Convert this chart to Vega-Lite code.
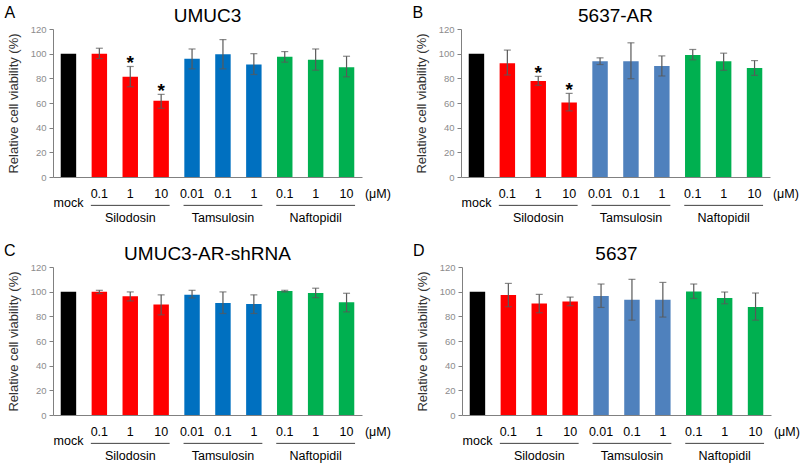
{
"$schema":"https://vega.github.io/schema/vega-lite/v6.json",
"padding":{"left":3,"top":4,"right":0,"bottom":0},
"background":"white",
"config":{"view":{"stroke":null},"font":"Liberation Sans","title":{"fontSize":19,"fontWeight":"normal","color":"#000000","offset":-21},
"axisY":{"values":[0,20,40,60,80,100,120],"labelOverlap":false,"grid":false,"domainColor":"#808080","tickColor":"#808080","tickSize":4,"labelColor":"#8c8c8c","labelFontSize":9.5,"labelPadding":3,"titleFontSize":13,"titleFontWeight":"normal","titleColor":"#333333","titlePadding":10},
"axisX":{"title":null,"labels":false,"ticks":false,"domainColor":"#808080","grid":false},
"text":{"fontSize":12.5,"baseline":"middle","color":"#000000"}},
"datasets":{
"bars":[
{"panel":"A","bar":"mock","drug":"mock","dose":"mock","v":100},
{"panel":"A","bar":"S0.1","drug":"Silodosin","dose":"0.1","v":100,"lo":96,"hi":104.4},
{"panel":"A","bar":"S1","drug":"Silodosin","dose":"1","v":81.2,"lo":73.2,"hi":89.6,"sig":"*"},
{"panel":"A","bar":"S10","drug":"Silodosin","dose":"10","v":61.9,"lo":55.7,"hi":67,"sig":"*"},
{"panel":"A","bar":"T0.01","drug":"Tamsulosin","dose":"0.01","v":95.8,"lo":87.7,"hi":103.8},
{"panel":"A","bar":"T0.1","drug":"Tamsulosin","dose":"0.1","v":99.5,"lo":87.7,"hi":111.4},
{"panel":"A","bar":"T1","drug":"Tamsulosin","dose":"1","v":91.2,"lo":83.1,"hi":100},
{"panel":"A","bar":"N0.1","drug":"Naftopidil","dose":"0.1","v":97.4,"lo":93.1,"hi":101.7},
{"panel":"A","bar":"N1","drug":"Naftopidil","dose":"1","v":95,"lo":86.6,"hi":103.8},
{"panel":"A","bar":"N10","drug":"Naftopidil","dose":"10","v":89,"lo":81.2,"hi":97.9},
{"panel":"B","bar":"mock","drug":"mock","dose":"mock","v":100},
{"panel":"B","bar":"S0.1","drug":"Silodosin","dose":"0.1","v":92.2,"lo":82.7,"hi":102.9},
{"panel":"B","bar":"S1","drug":"Silodosin","dose":"1","v":77.8,"lo":74.3,"hi":81.6,"sig":"*"},
{"panel":"B","bar":"S10","drug":"Silodosin","dose":"10","v":60.4,"lo":53.6,"hi":67.8,"sig":"*"},
{"panel":"B","bar":"T0.01","drug":"Tamsulosin","dose":"0.01","v":93.9,"lo":91.2,"hi":96.6},
{"panel":"B","bar":"T0.1","drug":"Tamsulosin","dose":"0.1","v":93.9,"lo":79.7,"hi":108.8},
{"panel":"B","bar":"T1","drug":"Tamsulosin","dose":"1","v":90.1,"lo":81.9,"hi":98.2},
{"panel":"B","bar":"N0.1","drug":"Naftopidil","dose":"0.1","v":99,"lo":95,"hi":103.4},
{"panel":"B","bar":"N1","drug":"Naftopidil","dose":"1","v":93.9,"lo":86.5,"hi":100.4},
{"panel":"B","bar":"N10","drug":"Naftopidil","dose":"10","v":88.4,"lo":82.4,"hi":94.4},
{"panel":"C","bar":"mock","drug":"mock","dose":"mock","v":100},
{"panel":"C","bar":"S0.1","drug":"Silodosin","dose":"0.1","v":100,"lo":98.4,"hi":101.1},
{"panel":"C","bar":"S1","drug":"Silodosin","dose":"1","v":96.3,"lo":92.5,"hi":99.8},
{"panel":"C","bar":"S10","drug":"Silodosin","dose":"10","v":89.5,"lo":81.2,"hi":97.4},
{"panel":"C","bar":"T0.01","drug":"Tamsulosin","dose":"0.01","v":97.6,"lo":94.9,"hi":101.1},
{"panel":"C","bar":"T0.1","drug":"Tamsulosin","dose":"0.1","v":90.9,"lo":82.3,"hi":99.8},
{"panel":"C","bar":"T1","drug":"Tamsulosin","dose":"1","v":90.1,"lo":82.3,"hi":97.4},
{"panel":"C","bar":"N0.1","drug":"Naftopidil","dose":"0.1","v":100.6,"lo":99.8,"hi":101.1},
{"panel":"C","bar":"N1","drug":"Naftopidil","dose":"1","v":99,"lo":95.2,"hi":102.8},
{"panel":"C","bar":"N10","drug":"Naftopidil","dose":"10","v":91.4,"lo":83.6,"hi":98.7},
{"panel":"D","bar":"mock","drug":"mock","dose":"mock","v":100},
{"panel":"D","bar":"S0.1","drug":"Silodosin","dose":"0.1","v":97.2,"lo":87.8,"hi":106.7},
{"panel":"D","bar":"S1","drug":"Silodosin","dose":"1","v":90.5,"lo":82.9,"hi":97.8},
{"panel":"D","bar":"S10","drug":"Silodosin","dose":"10","v":92.1,"lo":88.6,"hi":95.6},
{"panel":"D","bar":"T0.01","drug":"Tamsulosin","dose":"0.01","v":96.4,"lo":87.2,"hi":106.2},
{"panel":"D","bar":"T0.1","drug":"Tamsulosin","dose":"0.1","v":93.4,"lo":76.9,"hi":110},
{"panel":"D","bar":"T1","drug":"Tamsulosin","dose":"1","v":93.4,"lo":79.4,"hi":107.5},
{"panel":"D","bar":"N0.1","drug":"Naftopidil","dose":"0.1","v":100.2,"lo":94.5,"hi":106.2},
{"panel":"D","bar":"N1","drug":"Naftopidil","dose":"1","v":94.8,"lo":90.2,"hi":99.7},
{"panel":"D","bar":"N10","drug":"Naftopidil","dose":"10","v":87.5,"lo":76.9,"hi":98.9}
],
"groups":[
{"group":"Silodosin","first":"S0.1","mid":"S1","last":"S10"},
{"group":"Tamsulosin","first":"T0.01","mid":"T0.1","last":"T1"},
{"group":"Naftopidil","first":"N0.1","mid":"N1","last":"N10"}
],
"units":[{"u":"(μM)"}],
"letters":[{"panel":"A","letter":"A"},{"panel":"B","letter":"B"},{"panel":"C","letter":"C"},{"panel":"D","letter":"D"}]
},
"resolve":{"scale":{"color":"independent"}},
"spacing":17,
"vconcat":[
{"hconcat":[
{"title":{"text":"UMUC3"},"width":309,"height":148,
"layer":[
{"data":{"name":"bars"},"transform":[{"filter":"datum.panel==='A'"}],"mark":{"type":"bar"},
"encoding":{"x":{"field":"bar","type":"nominal","scale":{"domain":["mock","S0.1","S1","S10","T0.01","T0.1","T1","N0.1","N1","N10"],"paddingInner":0.5,"paddingOuter":0.25}},
"y":{"field":"v","type":"quantitative","scale":{"domain":[0,120]},"axis":{"title":"Relative cell viability (%)"}},
"color":{"field":"drug","type":"nominal","scale":{"domain":["mock","Silodosin","Tamsulosin","Naftopidil"],"range":["#000000","#FF0000","#0070C0","#00B050"]},"legend":null}}},
{"data":{"name":"bars"},"transform":[{"filter":"datum.panel==='A' && isValid(datum.lo)"}],"mark":{"type":"rule","color":"#595959","strokeWidth":1.2},
"encoding":{"x":{"field":"bar","type":"nominal"},"y":{"field":"lo","type":"quantitative"},"y2":{"field":"hi"}}},
{"data":{"name":"bars"},"transform":[{"filter":"datum.panel==='A' && isValid(datum.lo)"}],"mark":{"type":"tick","orient":"horizontal","color":"#595959","size":7,"thickness":1.2},
"encoding":{"x":{"field":"bar","type":"nominal"},"y":{"field":"lo","type":"quantitative"}}},
{"data":{"name":"bars"},"transform":[{"filter":"datum.panel==='A' && isValid(datum.hi)"}],"mark":{"type":"tick","orient":"horizontal","color":"#595959","size":7,"thickness":1.2},
"encoding":{"x":{"field":"bar","type":"nominal"},"y":{"field":"hi","type":"quantitative"}}},
{"data":{"name":"bars"},"transform":[{"filter":"datum.panel==='A' && isValid(datum.sig)"}],"mark":{"type":"text","fontSize":19,"fontWeight":"bold","baseline":"alphabetic","dy":3},
"encoding":{"x":{"field":"bar","type":"nominal"},"y":{"field":"hi","type":"quantitative"},"text":{"field":"sig"}}},
{"data":{"name":"bars"},"transform":[{"filter":"datum.panel==='A' && datum.bar!=='mock'"}],"mark":{"type":"text"},
"encoding":{"x":{"field":"bar","type":"nominal"},"y":{"datum":-13.6,"type":"quantitative"},"text":{"field":"dose"}}},
{"data":{"name":"bars"},"transform":[{"filter":"datum.panel==='A' && datum.bar==='mock'"}],"mark":{"type":"text"},
"encoding":{"x":{"field":"bar","type":"nominal"},"y":{"datum":-20.8,"type":"quantitative"},"text":{"field":"dose"}}},
{"data":{"name":"units"},"mark":{"type":"text"},
"encoding":{"x":{"datum":"N10","bandPosition":2.53},"y":{"datum":-13.6,"type":"quantitative"},"text":{"field":"u"}}},
{"data":{"name":"groups"},"mark":{"type":"rule","color":"#404040","strokeWidth":1},
"encoding":{"x":{"field":"first","type":"nominal","bandPosition":-0.05},"x2":{"field":"last","bandPosition":1.05},"y":{"datum":-23,"type":"quantitative"}}},
{"data":{"name":"groups"},"mark":{"type":"text"},
"encoding":{"x":{"field":"mid","type":"nominal"},"y":{"datum":-33.2,"type":"quantitative"},"text":{"field":"group"}}},
{"data":{"name":"letters"},"transform":[{"filter":"datum.panel==='A'"}],"mark":{"type":"text","fontSize":16},
"encoding":{"x":{"datum":"mock","bandPosition":-3.3},"y":{"datum":133,"type":"quantitative"},"text":{"field":"letter"}}}
]},
{"title":{"text":"5637-AR"},"width":309,"height":148,
"layer":[
{"data":{"name":"bars"},"transform":[{"filter":"datum.panel==='B'"}],"mark":{"type":"bar"},
"encoding":{"x":{"field":"bar","type":"nominal","scale":{"domain":["mock","S0.1","S1","S10","T0.01","T0.1","T1","N0.1","N1","N10"],"paddingInner":0.5,"paddingOuter":0.25}},
"y":{"field":"v","type":"quantitative","scale":{"domain":[0,120]},"axis":{"title":"Relative cell viability (%)"}},
"color":{"field":"drug","type":"nominal","scale":{"domain":["mock","Silodosin","Tamsulosin","Naftopidil"],"range":["#000000","#FF0000","#4F81BD","#00B050"]},"legend":null}}},
{"data":{"name":"bars"},"transform":[{"filter":"datum.panel==='B' && isValid(datum.lo)"}],"mark":{"type":"rule","color":"#595959","strokeWidth":1.2},
"encoding":{"x":{"field":"bar","type":"nominal"},"y":{"field":"lo","type":"quantitative"},"y2":{"field":"hi"}}},
{"data":{"name":"bars"},"transform":[{"filter":"datum.panel==='B' && isValid(datum.lo)"}],"mark":{"type":"tick","orient":"horizontal","color":"#595959","size":7,"thickness":1.2},
"encoding":{"x":{"field":"bar","type":"nominal"},"y":{"field":"lo","type":"quantitative"}}},
{"data":{"name":"bars"},"transform":[{"filter":"datum.panel==='B' && isValid(datum.hi)"}],"mark":{"type":"tick","orient":"horizontal","color":"#595959","size":7,"thickness":1.2},
"encoding":{"x":{"field":"bar","type":"nominal"},"y":{"field":"hi","type":"quantitative"}}},
{"data":{"name":"bars"},"transform":[{"filter":"datum.panel==='B' && isValid(datum.sig)"}],"mark":{"type":"text","fontSize":19,"fontWeight":"bold","baseline":"alphabetic","dy":3},
"encoding":{"x":{"field":"bar","type":"nominal"},"y":{"field":"hi","type":"quantitative"},"text":{"field":"sig"}}},
{"data":{"name":"bars"},"transform":[{"filter":"datum.panel==='B' && datum.bar!=='mock'"}],"mark":{"type":"text"},
"encoding":{"x":{"field":"bar","type":"nominal"},"y":{"datum":-13.6,"type":"quantitative"},"text":{"field":"dose"}}},
{"data":{"name":"bars"},"transform":[{"filter":"datum.panel==='B' && datum.bar==='mock'"}],"mark":{"type":"text"},
"encoding":{"x":{"field":"bar","type":"nominal"},"y":{"datum":-20.8,"type":"quantitative"},"text":{"field":"dose"}}},
{"data":{"name":"units"},"mark":{"type":"text"},
"encoding":{"x":{"datum":"N10","bandPosition":2.53},"y":{"datum":-13.6,"type":"quantitative"},"text":{"field":"u"}}},
{"data":{"name":"groups"},"mark":{"type":"rule","color":"#404040","strokeWidth":1},
"encoding":{"x":{"field":"first","type":"nominal","bandPosition":-0.05},"x2":{"field":"last","bandPosition":1.05},"y":{"datum":-23,"type":"quantitative"}}},
{"data":{"name":"groups"},"mark":{"type":"text"},
"encoding":{"x":{"field":"mid","type":"nominal"},"y":{"datum":-33.2,"type":"quantitative"},"text":{"field":"group"}}},
{"data":{"name":"letters"},"transform":[{"filter":"datum.panel==='B'"}],"mark":{"type":"text","fontSize":16},
"encoding":{"x":{"datum":"mock","bandPosition":-3.3},"y":{"datum":133,"type":"quantitative"},"text":{"field":"letter"}}}
]}
],"spacing":21,"resolve":{"scale":{"color":"independent"}}},
{"hconcat":[
{"title":{"text":"UMUC3-AR-shRNA"},"width":309,"height":148,
"layer":[
{"data":{"name":"bars"},"transform":[{"filter":"datum.panel==='C'"}],"mark":{"type":"bar"},
"encoding":{"x":{"field":"bar","type":"nominal","scale":{"domain":["mock","S0.1","S1","S10","T0.01","T0.1","T1","N0.1","N1","N10"],"paddingInner":0.5,"paddingOuter":0.25}},
"y":{"field":"v","type":"quantitative","scale":{"domain":[0,120]},"axis":{"title":"Relative cell viability (%)"}},
"color":{"field":"drug","type":"nominal","scale":{"domain":["mock","Silodosin","Tamsulosin","Naftopidil"],"range":["#000000","#FF0000","#0070C0","#00B050"]},"legend":null}}},
{"data":{"name":"bars"},"transform":[{"filter":"datum.panel==='C' && isValid(datum.lo)"}],"mark":{"type":"rule","color":"#595959","strokeWidth":1.2},
"encoding":{"x":{"field":"bar","type":"nominal"},"y":{"field":"lo","type":"quantitative"},"y2":{"field":"hi"}}},
{"data":{"name":"bars"},"transform":[{"filter":"datum.panel==='C' && isValid(datum.lo)"}],"mark":{"type":"tick","orient":"horizontal","color":"#595959","size":7,"thickness":1.2},
"encoding":{"x":{"field":"bar","type":"nominal"},"y":{"field":"lo","type":"quantitative"}}},
{"data":{"name":"bars"},"transform":[{"filter":"datum.panel==='C' && isValid(datum.hi)"}],"mark":{"type":"tick","orient":"horizontal","color":"#595959","size":7,"thickness":1.2},
"encoding":{"x":{"field":"bar","type":"nominal"},"y":{"field":"hi","type":"quantitative"}}},
{"data":{"name":"bars"},"transform":[{"filter":"datum.panel==='C' && datum.bar!=='mock'"}],"mark":{"type":"text"},
"encoding":{"x":{"field":"bar","type":"nominal"},"y":{"datum":-13.6,"type":"quantitative"},"text":{"field":"dose"}}},
{"data":{"name":"bars"},"transform":[{"filter":"datum.panel==='C' && datum.bar==='mock'"}],"mark":{"type":"text"},
"encoding":{"x":{"field":"bar","type":"nominal"},"y":{"datum":-20.8,"type":"quantitative"},"text":{"field":"dose"}}},
{"data":{"name":"units"},"mark":{"type":"text"},
"encoding":{"x":{"datum":"N10","bandPosition":2.53},"y":{"datum":-13.6,"type":"quantitative"},"text":{"field":"u"}}},
{"data":{"name":"groups"},"mark":{"type":"rule","color":"#404040","strokeWidth":1},
"encoding":{"x":{"field":"first","type":"nominal","bandPosition":-0.05},"x2":{"field":"last","bandPosition":1.05},"y":{"datum":-23,"type":"quantitative"}}},
{"data":{"name":"groups"},"mark":{"type":"text"},
"encoding":{"x":{"field":"mid","type":"nominal"},"y":{"datum":-33.2,"type":"quantitative"},"text":{"field":"group"}}},
{"data":{"name":"letters"},"transform":[{"filter":"datum.panel==='C'"}],"mark":{"type":"text","fontSize":16},
"encoding":{"x":{"datum":"mock","bandPosition":-3.3},"y":{"datum":133,"type":"quantitative"},"text":{"field":"letter"}}}
]},
{"title":{"text":"5637"},"width":309,"height":148,
"layer":[
{"data":{"name":"bars"},"transform":[{"filter":"datum.panel==='D'"}],"mark":{"type":"bar"},
"encoding":{"x":{"field":"bar","type":"nominal","scale":{"domain":["mock","S0.1","S1","S10","T0.01","T0.1","T1","N0.1","N1","N10"],"paddingInner":0.5,"paddingOuter":0.25}},
"y":{"field":"v","type":"quantitative","scale":{"domain":[0,120]},"axis":{"title":"Relative cell viability (%)"}},
"color":{"field":"drug","type":"nominal","scale":{"domain":["mock","Silodosin","Tamsulosin","Naftopidil"],"range":["#000000","#FF0000","#4F81BD","#00B050"]},"legend":null}}},
{"data":{"name":"bars"},"transform":[{"filter":"datum.panel==='D' && isValid(datum.lo)"}],"mark":{"type":"rule","color":"#595959","strokeWidth":1.2},
"encoding":{"x":{"field":"bar","type":"nominal"},"y":{"field":"lo","type":"quantitative"},"y2":{"field":"hi"}}},
{"data":{"name":"bars"},"transform":[{"filter":"datum.panel==='D' && isValid(datum.lo)"}],"mark":{"type":"tick","orient":"horizontal","color":"#595959","size":7,"thickness":1.2},
"encoding":{"x":{"field":"bar","type":"nominal"},"y":{"field":"lo","type":"quantitative"}}},
{"data":{"name":"bars"},"transform":[{"filter":"datum.panel==='D' && isValid(datum.hi)"}],"mark":{"type":"tick","orient":"horizontal","color":"#595959","size":7,"thickness":1.2},
"encoding":{"x":{"field":"bar","type":"nominal"},"y":{"field":"hi","type":"quantitative"}}},
{"data":{"name":"bars"},"transform":[{"filter":"datum.panel==='D' && datum.bar!=='mock'"}],"mark":{"type":"text"},
"encoding":{"x":{"field":"bar","type":"nominal"},"y":{"datum":-13.6,"type":"quantitative"},"text":{"field":"dose"}}},
{"data":{"name":"bars"},"transform":[{"filter":"datum.panel==='D' && datum.bar==='mock'"}],"mark":{"type":"text"},
"encoding":{"x":{"field":"bar","type":"nominal"},"y":{"datum":-20.8,"type":"quantitative"},"text":{"field":"dose"}}},
{"data":{"name":"units"},"mark":{"type":"text"},
"encoding":{"x":{"datum":"N10","bandPosition":2.53},"y":{"datum":-13.6,"type":"quantitative"},"text":{"field":"u"}}},
{"data":{"name":"groups"},"mark":{"type":"rule","color":"#404040","strokeWidth":1},
"encoding":{"x":{"field":"first","type":"nominal","bandPosition":-0.05},"x2":{"field":"last","bandPosition":1.05},"y":{"datum":-23,"type":"quantitative"}}},
{"data":{"name":"groups"},"mark":{"type":"text"},
"encoding":{"x":{"field":"mid","type":"nominal"},"y":{"datum":-33.2,"type":"quantitative"},"text":{"field":"group"}}},
{"data":{"name":"letters"},"transform":[{"filter":"datum.panel==='D'"}],"mark":{"type":"text","fontSize":16},
"encoding":{"x":{"datum":"mock","bandPosition":-3.3},"y":{"datum":133,"type":"quantitative"},"text":{"field":"letter"}}}
]}
],"spacing":21,"resolve":{"scale":{"color":"independent"}}}
]
}
